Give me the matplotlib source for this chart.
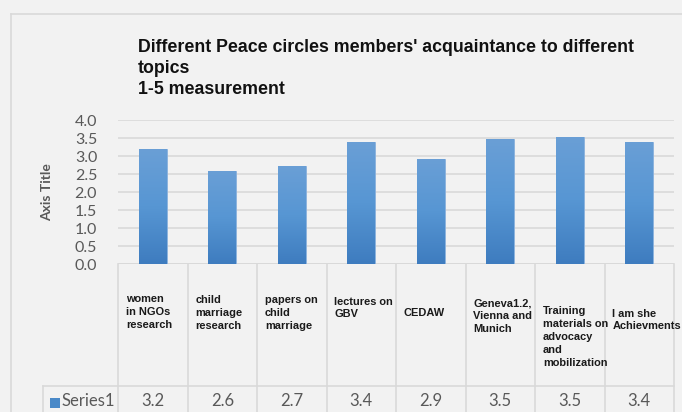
import matplotlib
matplotlib.use("Agg")
import matplotlib.pyplot as plt
import numpy as np
from matplotlib.transforms import blended_transform_factory
from matplotlib.patches import Rectangle
from matplotlib.colors import LinearSegmentedColormap

categories = [
    "women\nin NGOs\nresearch",
    "child\nmarriage\nresearch",
    "papers on\nchild\nmarriage",
    "lectures on\nGBV",
    "CEDAW",
    "Geneva1.2,\nVienna and\nMunich",
    "Training\nmaterials on\nadvocacy\nand\nmobilization",
    "I am she\nAchievments",
]
values = [3.19, 2.59, 2.72, 3.38, 2.92, 3.47, 3.53, 3.40]
value_labels = ["3.2", "2.6", "2.7", "3.4", "2.9", "3.5", "3.5", "3.4"]
series_name = "Series1"
yticks = [0.0, 0.5, 1.0, 1.5, 2.0, 2.5, 3.0, 3.5, 4.0]
title = "Different Peace circles members' acquaintance to different\ntopics\n1-5 measurement"
y_title = "Axis Title"

W, H = 682, 412
BG = "#f2f2f2"
GRID = "#d9d9d9"
TXT = "#595959"
BAR = "#4a89c8"

fig = plt.figure(figsize=(W / 100, H / 100), dpi=100, facecolor=BG)

def fx(x):
    return x / W

def fy(y):
    return 1 - y / H

# chart frame
fig.add_artist(plt.Line2D([fx(11), fx(11)], [fy(14), fy(412)], color=GRID, lw=1.2))
fig.add_artist(plt.Line2D([fx(11), fx(682)], [fy(14), fy(14)], color=GRID, lw=1.2))

ax_left, ax_right, ax_top, ax_bot = 118, 674, 120, 264
ax = fig.add_axes([fx(ax_left), fy(ax_bot), (ax_right - ax_left) / W, (ax_bot - ax_top) / H])
ax.set_facecolor(BG)
ax.patch.set_alpha(0)

x = np.arange(len(values))
bars = ax.bar(x, values, width=0.4, color=BAR, edgecolor="#8cb3de", linewidth=0.6, zorder=3)

# vertical gradient fill for bars
grad = np.linspace(0, 1, 256).reshape(-1, 1)
cmap = LinearSegmentedColormap.from_list("g", ["#3e7cbf", "#5796d3", "#6a9fd6"])
for b in bars:
    x0, y0 = b.get_x(), b.get_y()
    w, h = b.get_width(), b.get_height()
    im = ax.imshow(grad, extent=[x0, x0 + w, y0, y0 + h], origin="lower", cmap=cmap,
                   aspect="auto", zorder=3.5)
    im.set_clip_path(b)

ax.set_xlim(-0.5, len(values) - 0.5)
ax.set_ylim(0, 4)
ax.set_yticks(yticks)
ax.set_yticklabels([f"{t:.1f}" for t in yticks], fontsize=11.5, color=TXT, family="Lato")
ax.tick_params(axis="y", length=0, pad=15)
ax.set_xticks([])
ax.grid(axis="y", color=GRID, lw=1.2, zorder=0)
for s in ax.spines.values():
    s.set_visible(False)
ax.axhline(0, color=GRID, lw=1.2, zorder=2)

# axis title
fig.text(fx(47), fy(192), y_title, rotation=90, ha="center", va="center",
         fontsize=10, fontweight="bold", color=TXT, family="Lato")

# chart title
fig.text(fx(138), fy(39), title, ha="left", va="top", fontsize=12.8, fontweight="bold",
         color="#111111", family="Liberation Sans", linespacing=1.32)

# data table
tr = blended_transform_factory(ax.transData, fig.transFigure)
for i in range(len(values) + 1):
    ax.add_line(plt.Line2D([i - 0.5, i - 0.5], [fy(264), fy(412)], transform=tr,
                           color=GRID, lw=1.2, clip_on=False))
fig.add_artist(plt.Line2D([fx(43), fx(674)], [fy(386), fy(386)], color=GRID, lw=1.2))
fig.add_artist(plt.Line2D([fx(43), fx(43)], [fy(386), fy(412)], color=GRID, lw=1.2))

label_centers = [312, 313, 313, 308, 313, 316, 337, 320]
for i, (c, yc) in enumerate(zip(categories, label_centers)):
    ax.text(i - 0.5 + 0.115, fy(yc), c, transform=tr, ha="left", va="center",
            fontsize=7.9, fontweight="bold", color="#1a1a1a", family="Liberation Sans",
            linespacing=1.36)
    ax.text(i, fy(401), value_labels[i], transform=tr, ha="center", va="center",
            fontsize=12, color=TXT, family="Lato")

fig.add_artist(Rectangle((fx(50), fy(408)), 10 / W, 10 / H, facecolor=BAR, edgecolor="none"))
fig.text(fx(62), fy(401), series_name, ha="left", va="center", fontsize=12, color=TXT, family="Lato")

fig.savefig("out.png", dpi=100, facecolor=BG)
